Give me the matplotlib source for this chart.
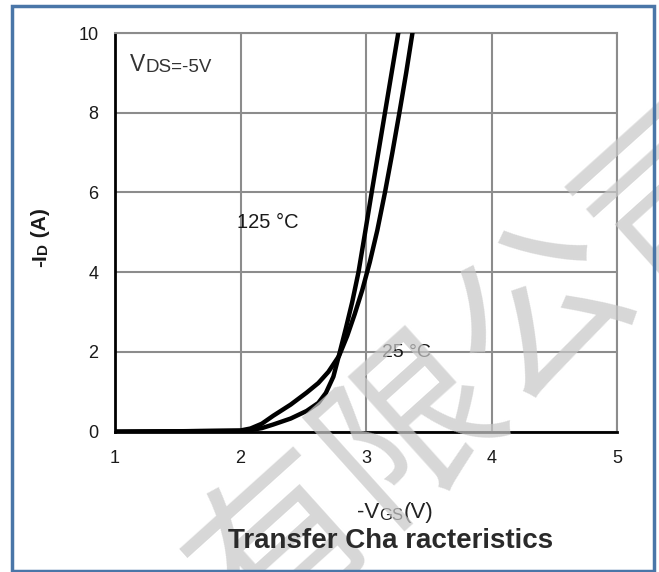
import matplotlib

matplotlib.use("Agg")
import matplotlib.pyplot as plt
from matplotlib.patches import Rectangle

# -VGS (V) and -ID (A)
vgs_125 = [1.0, 1.5, 2.0, 2.08, 2.17, 2.261, 2.4, 2.527, 2.62, 2.7,
           2.785, 2.85, 2.91, 2.97, 3.03, 3.09, 3.151, 3.21, 3.266,
           3.32, 3.37]
id_125 = [0.0, 0.01, 0.03, 0.08, 0.2, 0.4, 0.68, 0.98, 1.22, 1.5,
          1.9, 2.4, 2.95, 3.55, 4.25, 5.05, 6.0, 7.0, 8.0, 9.0, 10.0]

vgs_25 = [1.0, 1.5, 2.0, 2.08, 2.17, 2.261, 2.4, 2.527, 2.62, 2.68,
          2.74, 2.785, 2.84, 2.89, 2.94, 2.993, 3.045, 3.098, 3.151,
          3.204, 3.257]
id_25 = [0.0, 0.01, 0.02, 0.04, 0.09, 0.18, 0.33, 0.52, 0.72, 0.97,
         1.38, 1.92, 2.6, 3.25, 4.0, 5.0, 6.0, 7.0, 8.0, 9.0, 10.0]

x_ticks = [1, 2, 3, 4, 5]
y_ticks = [0, 2, 4, 6, 8, 10]

FONT = ["Liberation Sans", "DejaVu Sans"]

figure = plt.figure(figsize=(6.59, 5.72), dpi=100)
axis = figure.add_axes([0.1745, 0.2453, 0.7618, 0.697])

# watermark
figure.text(
    0.725, 0.35, "有限公司",
    fontsize=126,
    family=["Noto Sans CJK SC", "DejaVu Sans"],
    color="#c8c8c8",
    alpha=0.72,
    rotation=42,
    ha="center",
    va="center",
    zorder=3,
)

axis.plot(vgs_125, id_125, color="black", linewidth=3.2,
          solid_joinstyle="round", zorder=5)
axis.plot(vgs_25, id_25, color="black", linewidth=3.2,
          solid_joinstyle="round", zorder=5)

axis.set_xlim(1, 5)
axis.set_ylim(0, 10)
axis.set_xticks(x_ticks)
axis.set_yticks(y_ticks)
axis.tick_params(length=0, labelsize=13, labelcolor="#1a1a1a")
axis.tick_params(axis="x", pad=13)
axis.tick_params(axis="y", pad=12)
for label in axis.get_xticklabels() + axis.get_yticklabels():
    label.set_family(FONT)
axis.grid(True, color="#8c8c8c", linewidth=1.5)
axis.set_axisbelow(True)

for side in ("top", "right"):
    axis.spines[side].set_color("#8c8c8c")
    axis.spines[side].set_linewidth(1.5)
for side in ("left", "bottom"):
    axis.spines[side].set_color("black")
    axis.spines[side].set_linewidth(2)

# annotations
v_text = axis.text(1.12, 9.04, "V", fontsize=16.5, family=FONT,
                   color="#333333", va="baseline")
axis.annotate("DS=-5V", xy=(1, 0), xycoords=v_text, fontsize=13.5,
              family=FONT, color="#333333", va="bottom")
axis.text(1.972, 5.1, "125 °C", fontsize=14.5, family=FONT,
          color="#1a1a1a", va="baseline", ha="left")
axis.text(3.125, 1.87, "25 °C", fontsize=14, family=FONT,
          color="#1a1a1a", va="baseline", ha="left")

# y label: -ID (A)
y_part = figure.text(0.062, 0.533, "-I", fontsize=15, fontweight="bold",
                     family=FONT, rotation=90, ha="center", va="bottom",
                     color="#1a1a1a")
y_sub = figure.text(0.066, 0.0, "D", fontsize=11, fontweight="bold",
                    family=FONT, rotation=90, ha="center", va="bottom",
                    color="#1a1a1a")
figure.canvas.draw()
renderer = figure.canvas.get_renderer()
bbox = y_part.get_window_extent(renderer)
y_sub.set_position((0.066, bbox.y1 / figure.bbox.height))
bbox = y_sub.get_window_extent(renderer)
figure.text(0.062, bbox.y1 / figure.bbox.height, " (A)", fontsize=15,
            fontweight="bold", family=FONT, rotation=90, ha="center",
            va="bottom", color="#1a1a1a")

# x label: -VGS(V)
x_part = figure.text(0.5417, 0.094, "-V", fontsize=16, family=FONT,
                     color="#222222", va="baseline")
x_sub = axis.annotate("GS", xy=(1, 0), xycoords=x_part, fontsize=12,
                      family=FONT, color="#222222", va="bottom",
                      annotation_clip=False)
axis.annotate("(V)", xy=(1, 0), xycoords=x_sub, fontsize=16,
              family=FONT, color="#222222", va="bottom",
              annotation_clip=False)

figure.text(0.592, 0.042, "Transfer Cha racteristics", fontsize=20,
            fontweight="bold", family=FONT, color="#2a2a2a",
            ha="center", va="baseline")

figure.patches.append(
    Rectangle((12 / 659, 1 / 572), 642 / 659, 565 / 572,
              transform=figure.transFigure, fill=False,
              edgecolor="#4a76a8", linewidth=2.5, zorder=10)
)

figure.savefig("out.png", dpi=100)
plt.close(figure)
